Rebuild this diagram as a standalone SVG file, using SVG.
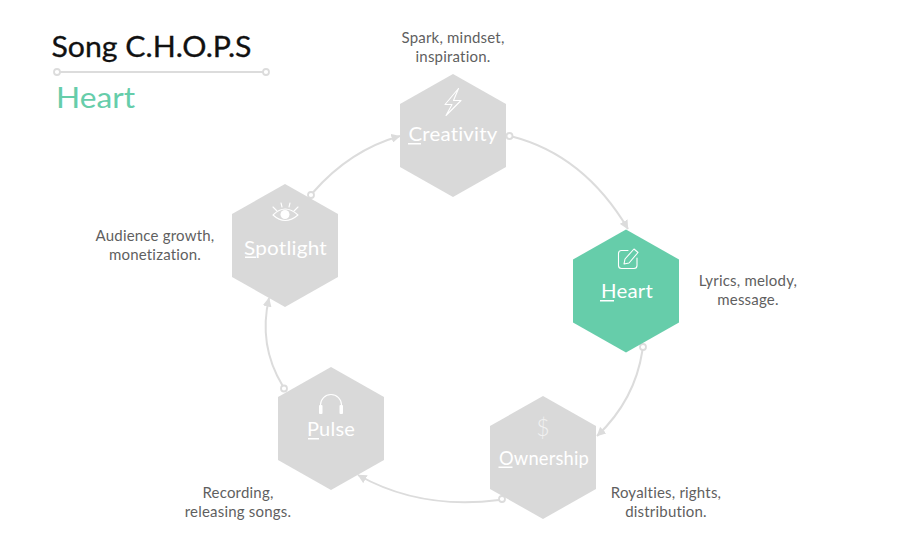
<svg xmlns="http://www.w3.org/2000/svg" width="900" height="550" viewBox="0 0 900 550">
<style>
text{font-family:"Lato","Open Sans",sans-serif}
.hex{fill:#d9d9d9}
.hot{fill:#66cdaa}
.lab{fill:#fff;font-size:20px;text-anchor:middle;letter-spacing:.2px}
.cap{fill:#5f5f5f;font-size:15px;text-anchor:middle;letter-spacing:.2px}
.ic{fill:none;stroke:#fff;stroke-width:1.1;stroke-linejoin:round;stroke-linecap:round}
.c{fill:none;stroke:#dcdcdc;stroke-width:2}
.u{fill:#fff}
.dot{fill:#fff;stroke:#dcdcdc;stroke-width:1.8}
</style>
<defs>
<marker id="a" viewBox="0 0 10 10" refX="9.5" refY="5" markerWidth="9" markerHeight="9" markerUnits="userSpaceOnUse" orient="auto"><path d="M0 0L10 5L0 10Z" fill="#dcdcdc"/></marker>
<polygon id="hx" points="0,-61.5 53,-31.500 53,31.500 0,61.500 -53,31.500 -53,-31.500"/>
</defs>
<g id="title">
<text x="51.500" y="57" font-size="28" fill="#111" stroke="#111" stroke-width=".3" textLength="200" lengthAdjust="spacingAndGlyphs">Song C.H.O.P.S</text>
<line x1="57" y1="72" x2="266" y2="72" class="c"/>
<circle cx="57" cy="72" r="3" class="dot"/><circle cx="266" cy="72" r="3" class="dot"/>
<text x="56" y="108" font-size="28" fill="#66cdaa" textLength="79" lengthAdjust="spacingAndGlyphs">Heart</text>
</g>
<g id="connectors">
<path class="c" marker-end="url(#a)" d="M512 136.500Q584 155 628 229"/>
<path class="c" marker-end="url(#a)" d="M642.500 350Q635 400 597 436"/>
<path class="c" marker-end="url(#a)" d="M499 500Q420 510 358 475"/>
<path class="c" marker-end="url(#a)" d="M282.500 385.500Q258 345 269 298"/>
<path class="c" marker-end="url(#a)" d="M313 192.500Q350 150 400 136"/>
<circle class="dot" cx="509.500" cy="136" r="3"/>
<circle class="dot" cx="643" cy="347" r="3"/>
<circle class="dot" cx="502" cy="499" r="3"/>
<circle class="dot" cx="284" cy="388.500" r="3"/>
<circle class="dot" cx="311" cy="195" r="3"/>
</g>
<g id="creativity">
<use href="#hx" x="453" y="135.500" class="hex"/>
<path class="ic" d="M458.500 88.500L445 104.500L452 104.500L446 115.500L461 100.500L453.500 100.500Z"/>
<text class="lab" x="453" y="141" textLength="89" lengthAdjust="spacingAndGlyphs">Creativity</text>
<rect class="u" x="408" y="143" width="13" height="1.500"/>
<text class="cap" x="453" y="43">Spark, mindset,</text>
<text class="cap" x="453" y="62">inspiration.</text>
</g>
<g id="heart">
<use href="#hx" x="626" y="291" class="hot"/>
<path class="ic" d="M628 250.500H621.500Q618.500 250.500 618.500 253.500V265.500Q618.500 268.500 621.500 268.500H634Q637 268.500 637 265.500V258"/>
<path class="ic" d="M624 264L625 259L634 249L638 252.500L629 263Z"/>
<text class="lab" x="627" y="298" textLength="52" lengthAdjust="spacingAndGlyphs">Heart</text>
<rect class="u" x="600" y="300" width="14" height="1.500"/>
<text class="cap" x="748" y="286">Lyrics, melody,</text>
<text class="cap" x="748" y="305">message.</text>
</g>
<g id="ownership">
<use href="#hx" x="543" y="457.500" class="hex"/>
<text x="543" y="436" font-size="23" font-weight="300" fill="#f1f1f1" text-anchor="middle">$</text>
<text class="lab" x="544" y="465" textLength="90" lengthAdjust="spacingAndGlyphs">Ownership</text>
<rect class="u" x="498.500" y="466.500" width="14" height="1.500"/>
<text class="cap" x="666" y="498">Royalties, rights,</text>
<text class="cap" x="666" y="517">distribution.</text>
</g>
<g id="pulse">
<use href="#hx" x="331" y="428.500" class="hex"/>
<path class="ic" stroke-width="1.500" d="M320.500 408V405A10.500 10.500 0 0 1 341.500 405V408"/>
<rect class="u" x="319" y="405" width="3.500" height="9" rx="1"/><rect class="u" x="339.500" y="405" width="3.500" height="9" rx="1"/>
<text class="lab" x="331" y="436" textLength="48" lengthAdjust="spacingAndGlyphs">Pulse</text>
<rect class="u" x="308" y="438" width="11" height="1.500"/>
<text class="cap" x="238" y="498">Recording,</text>
<text class="cap" x="238" y="517">releasing songs.</text>
</g>
<g id="spotlight">
<use href="#hx" x="285" y="245.500" class="hex"/>
<path class="ic" d="M273 215Q285 203 298 215Q285 226 273 215Z"/>
<circle class="u" cx="285" cy="214.500" r="4.500"/>
<path class="ic" d="M273 207L277 211M281 203L282 207M290 203L289 207M298 207L294 211"/>
<text class="lab" x="285.500" y="255" textLength="83" lengthAdjust="spacingAndGlyphs">Spotlight</text>
<rect class="u" x="245" y="256.500" width="11" height="1.500"/>
<text class="cap" x="155" y="241">Audience growth,</text>
<text class="cap" x="155" y="260">monetization.</text>
</g>
</svg>
